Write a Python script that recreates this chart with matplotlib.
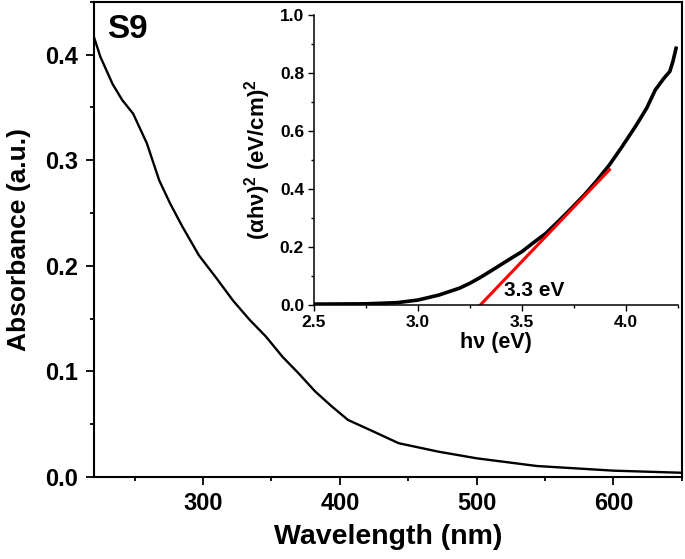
import matplotlib
matplotlib.use("Agg")
import matplotlib.pyplot as plt
from matplotlib.ticker import MultipleLocator, FormatStrFormatter

# ---- data ----
wavelength = [220, 225, 234, 241, 249, 259, 268, 276, 285, 297, 310, 322, 334,
              346, 358, 370, 382, 394, 406, 423, 443, 472, 500, 544, 600, 650]
absorbance = [0.418, 0.398, 0.372, 0.357, 0.344, 0.316, 0.281, 0.259, 0.237,
              0.210, 0.188, 0.167, 0.149, 0.133, 0.114, 0.098, 0.081, 0.067,
              0.054, 0.044, 0.032, 0.024, 0.0177, 0.0104, 0.006, 0.004]

hv = [2.5, 2.75, 2.9, 3.0, 3.1, 3.2, 3.25, 3.3, 3.35, 3.41, 3.45, 3.5, 3.55,
      3.615, 3.67, 3.73, 3.8, 3.855, 3.92, 3.98, 4.05, 4.1, 4.14, 4.18, 4.21,
      4.225, 4.24]
tauc = [0.003, 0.004, 0.008, 0.017, 0.034, 0.058, 0.075, 0.095, 0.117, 0.144,
        0.162, 0.184, 0.212, 0.247, 0.285, 0.328, 0.380, 0.425, 0.483, 0.545,
        0.621, 0.680, 0.741, 0.780, 0.805, 0.840, 0.885]

fit_hv = [3.30, 3.92]
fit_y = [0.0, 0.466]

band_gap_label = "3.3 eV"
sample_label = "S9"

plt.rcParams['font.family'] = ['Liberation Sans', 'DejaVu Sans']
plt.rcParams['font.weight'] = 'bold'
plt.rcParams['axes.labelweight'] = 'bold'
plt.rcParams['mathtext.fontset'] = 'custom'
plt.rcParams['mathtext.rm'] = 'Liberation Sans:bold'
plt.rcParams['mathtext.bf'] = 'Liberation Sans:bold'
plt.rcParams['mathtext.it'] = 'Liberation Sans:bold'

fig = plt.figure(figsize=(6.85, 5.59), dpi=100)
ax = fig.add_axes([0.1365, 0.1467, 0.859, 0.850])
ax.plot(wavelength, absorbance, color='black', lw=1.7)
ax.set_xlim(220, 650)
ax.set_ylim(0, 0.45)
ax.xaxis.set_major_locator(MultipleLocator(100))
ax.xaxis.set_minor_locator(MultipleLocator(50))
ax.yaxis.set_major_locator(MultipleLocator(0.1))
ax.yaxis.set_minor_locator(MultipleLocator(0.05))
ax.yaxis.set_major_formatter(FormatStrFormatter('%.1f'))
ax.tick_params(which='major', direction='out', length=6, width=1.3, labelsize=17, pad=5)
ax.tick_params(which='minor', direction='out', length=3, width=1.3)
for s in ax.spines.values():
    s.set_linewidth(1.5)
ax.set_xlabel("Wavelength (nm)", fontsize=20.5, labelpad=6)
ax.set_ylabel("Absorbance (a.u.)", fontsize=19, labelpad=10)
ax.text(0.023, 0.975, sample_label, transform=ax.transAxes, fontsize=24,
        fontweight='bold', va='top', ha='left')

ins = fig.add_axes([0.458, 0.4544, 0.532, 0.519])
ins.plot(hv, tauc, color='black', lw=2.6)
ins.plot(fit_hv, fit_y, color='#ff0000', lw=2.2)
ins.set_xlim(2.5, 4.25)
ins.set_ylim(0, 1.0)
ins.xaxis.set_major_locator(MultipleLocator(0.5))
ins.xaxis.set_minor_locator(MultipleLocator(0.25))
ins.yaxis.set_major_locator(MultipleLocator(0.2))
ins.yaxis.set_minor_locator(MultipleLocator(0.1))
ins.xaxis.set_major_formatter(FormatStrFormatter('%.1f'))
ins.yaxis.set_major_formatter(FormatStrFormatter('%.1f'))
ins.spines['top'].set_visible(False)
ins.spines['right'].set_visible(False)
for s in ('left', 'bottom'):
    ins.spines[s].set_linewidth(1.1)
ins.patch.set_alpha(0)
ins.tick_params(which='major', direction='out', length=4, width=1.0, labelsize=12.5, pad=3)
ins.tick_params(which='minor', direction='out', length=2, width=1.0)
ins.set_xlabel("hν (eV)", fontsize=15.5, labelpad=2)
ins.set_ylabel("(αhν)$^2$ (eV/cm)$^2$", fontsize=16, labelpad=5)
ins.text(3.415, 0.017, band_gap_label, fontsize=15, fontweight='bold',
         ha='left', va='bottom')

fig.savefig("out.png", dpi=100)
